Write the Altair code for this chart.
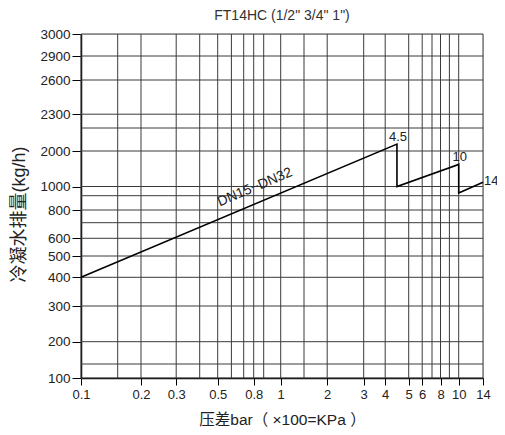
import altair as alt
import pandas as pd

# curve (DN15~DN32): x = pressure difference (bar), y = condensate capacity (kg/h)
curve_x = [0.1, 4.5, 4.5, 10, 10, 14]
curve_y = [400, 2060, 1000, 1620, 930, 1120]

# grid lines of the printed chart
grid_x = [0.1, 0.15, 0.2, 0.3, 0.4, 0.5, 0.6, 0.7, 0.8, 0.9, 1, 1.5, 2, 3, 4, 5, 6, 7, 8, 9, 10, 14]
grid_y = [100, 150, 200, 300, 400, 500, 600, 700, 800, 900, 1000, 2000, 2200, 2300, 2600, 2900, 3000]

# labelled ticks
tick_x = [0.1, 0.2, 0.3, 0.5, 0.8, 1, 2, 3, 4, 5, 6, 8, 10, 14]
tick_y = [100, 200, 300, 400, 500, 600, 800, 1000, 2000, 2300, 2600, 2900, 3000]

# point labels
lab_x = [4.5, 10, 14]
lab_y = [2060, 1620, 1120]
lab_text = ["4.5", "10", "14"]

W, H = 402, 344
# the printed axes are hand-spaced, so use piecewise scales
x_range = [0, 36.7, 60, 95.2, 118.7, 136.7, 150.4, 162.7, 172.7, 182.7, 199.7,
           223, 246.2, 282.7, 304.2, 327.7, 341.2, 351, 359.5, 368.4, 377.7, 402]
y_range = [344, 330, 307.7, 272, 243.3, 222, 204.3, 188.7, 176, 161.7, 152.5,
           117, 94, 80.2, 46, 22, 0]

FONT = "Liberation Sans"
CJK = "Liberation Sans, Noto Sans CJK SC"
INK = "#222"

xs = alt.Scale(type="linear", domain=grid_x, range=x_range, zero=False, nice=False)
ys = alt.Scale(type="linear", domain=grid_y, range=y_range, zero=False, nice=False)

x_axis = alt.Axis(
    values=tick_x, labelExpr="'' + datum.value", grid=False,
    labelFlush=False, labelOverlap=False,
    title="压差bar（ ×100=KPa ）", titleFont=CJK, titleFontSize=15.5, titleFontWeight="normal",
    titleColor=INK, titlePadding=11,
    labelFont=FONT, labelFontSize=13, labelColor=INK, labelPadding=3,
    tickSize=7, tickColor="black", domainColor="black", domainWidth=1.5,
)
y_axis = alt.Axis(
    values=tick_y, labelExpr="'' + datum.value", grid=False,
    labelFlush=False, labelOverlap=False,
    title="冷凝水排量(kg/h)", titleFont=CJK, titleFontSize=18, titleFontWeight="normal",
    titleColor=INK, titleX=-62, titleY=180, titleBaseline="middle", titleAngle=270,
    labelFont=FONT, labelFontSize=13.5, labelColor=INK, labelPadding=2,
    tickSize=9, tickColor="black", domainColor="black", domainWidth=1.5,
)

curve = pd.DataFrame({"x": curve_x, "y": curve_y, "i": range(len(curve_x))})
gx = pd.DataFrame({"x": grid_x})
gy = pd.DataFrame({"y": grid_y})
labs = pd.DataFrame({"x": lab_x, "y": lab_y, "t": lab_text})
dn = pd.DataFrame({"x": [0.87], "y": [862], "t": ["DN15~DN32"]})

enc = dict(
    x=alt.X("x:Q", scale=xs, axis=x_axis),
    y=alt.Y("y:Q", scale=ys, axis=y_axis),
)

vgrid = alt.Chart(gx).mark_rule(color="#3a3a3a", strokeWidth=1).encode(x=enc["x"])
hgrid = alt.Chart(gy).mark_rule(color="#3a3a3a", strokeWidth=1).encode(y=enc["y"])
line = alt.Chart(curve).mark_line(color="black", strokeWidth=1.6).encode(
    order=alt.Order("i:Q"), **enc
)
peak_labels = alt.Chart(labs.iloc[:2]).mark_text(
    font=FONT, fontSize=13, color=INK, baseline="alphabetic", dx=1, dy=-3
).encode(text="t:N", **enc)
end_label = alt.Chart(labs.iloc[2:]).mark_text(
    font=FONT, fontSize=13, color=INK, align="left", baseline="middle", dx=1, dy=-1
).encode(text="t:N", **enc)
dn_label = alt.Chart(dn).mark_text(
    font=FONT, fontSize=14, color=INK, angle=337.2, align="center",
    baseline="alphabetic", dy=-11
).encode(text="t:N", **enc)

chart = alt.layer(vgrid, hgrid, line, peak_labels, end_label, dn_label).properties(
    width=W,
    height=H,
    title=alt.TitleParams(
        'FT14HC (1/2" 3/4" 1")', font=FONT, fontSize=14, fontWeight="normal",
        color="#333", anchor="middle", offset=4,
    ),
    autosize=alt.AutoSizeParams(type="none"),
    padding={"left": 73, "top": 26, "right": 14, "bottom": 49},
).configure_view(
    stroke="black", strokeWidth=1.8
).configure(background="white")

chart.save("out.html", embed_options={"renderer": "svg", "actions": False})
